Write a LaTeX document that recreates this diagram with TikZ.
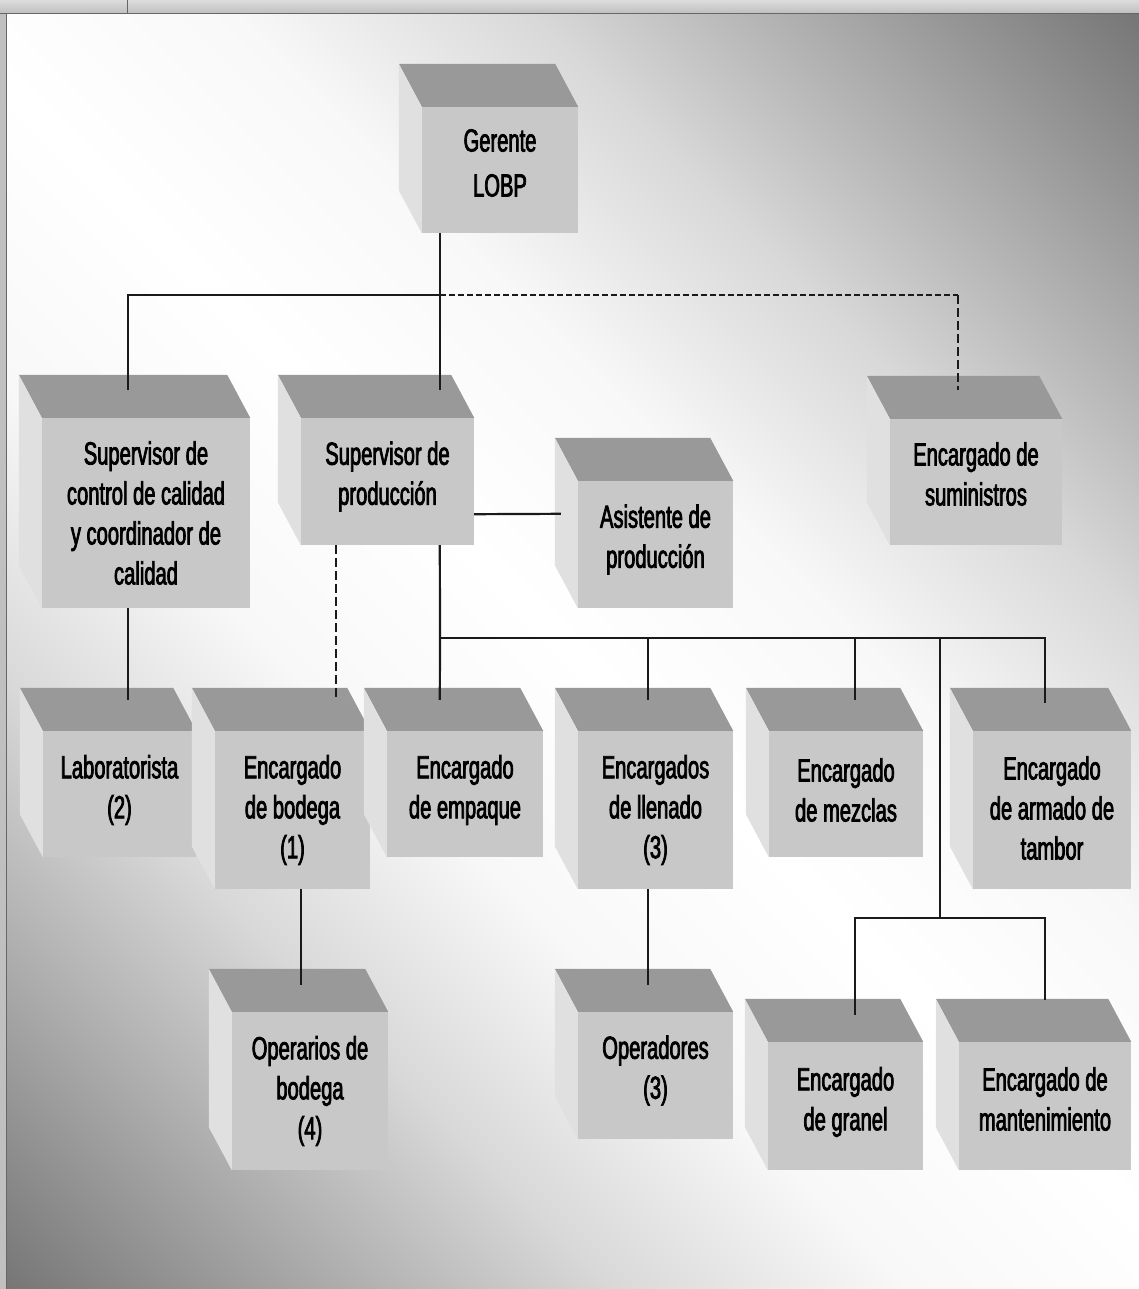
\documentclass[tikz,border=0pt]{standalone}
\usepackage{fontspec}
\setmainfont{Liberation Sans}[FakeStretch=0.63,FakeBold=2.3]
\usetikzlibrary{calc}

\definecolor{topface}{HTML}{999999}
\definecolor{frontface}{HTML}{C8C8C8}
\definecolor{sideface}{HTML}{E0E0E0}
\definecolor{bgA}{HTML}{F8F8F8}
\definecolor{bgB}{HTML}{D8D8D8}
\definecolor{bgC}{HTML}{A8A8A8}
\definecolor{bgD}{HTML}{777777}
\definecolor{linecol}{HTML}{1A1A1A}
\definecolor{framegray}{HTML}{C0C0C0}
\definecolor{framelight}{HTML}{DCDCDC}
\definecolor{framedark}{HTML}{666666}

% light band along the main diagonal, darker towards the two other corners
\pgfdeclareverticalshading{bgdiag}{100bp}{%
  color(0bp)=(bgD); color(14.64bp)=(bgD); color(23.48bp)=(bgC);
  color(32.32bp)=(bgB); color(41.16bp)=(bgA); color(50bp)=(white);
  color(58.84bp)=(bgA); color(67.68bp)=(bgB); color(76.52bp)=(bgC);
  color(85.36bp)=(bgD); color(100bp)=(bgD)}

\tikzset{
  cubefront/.style={rectangle, fill=frontface, inner sep=0pt},
  cubetext/.style={align=center, inner sep=0pt, text=black,
    font=\fontsize{32}{40}\selectfont},
  conn/.style={draw=linecol, line width=2.2pt},
  dashh/.style={conn, dash pattern=on 6pt off 3pt},
  dashv/.style={conn, dash pattern=on 9pt off 4pt},
}

% three-sided box: front face node, its top and left faces, and its text
% #1 text style, #2 name, #3-#6 front face corners (x1,y1,x2,y2), #7 text
\newcommand\orgcube[7][]{%
  \node[cubefront, minimum width={#5-#3}, minimum height={#6-#4}]
    (#2) at ({(#3+#5)/2},{(#4+#6)/2}) {};
  \fill[topface] (#2.north west) -- ++(-23,-43)
    -- ($(#2.north east)+(-23,-43)$) -- (#2.north east) -- cycle;
  \fill[sideface] (#2.north west) -- ++(-23,-43)
    -- ($(#2.south west)+(-23,-43)$) -- (#2.south west) -- cycle;
  \node[cubetext, #1] (#2-text) at (#2.center) {#7};
}

\begin{document}
\begin{tikzpicture}[x=1pt, y=-1pt]
\useasboundingbox (0,0) rectangle (1139,1289);

% window frame and background
\shade[shading=bgdiag, shading angle=-45] (7,14) rectangle (1139,1289);
\shade[top color=framelight, bottom color=framegray] (0,0) rectangle (1139,13);
\fill[framegray] (0,13) rectangle (6,1289);
\draw[framedark, line width=1.5pt] (0,13.5) -- (1139,13.5);
\draw[framedark, line width=1.2pt] (6.5,13.5) -- (6.5,1289);
\draw[framedark, line width=1pt] (127,0) -- (127,13);

% boxes
\orgcube[font=\fontsize{32}{45}\selectfont, yshift=7pt]{gerente}{422}{107}{578}{233}{Gerente\\LOBP}
\orgcube{calidad}{42}{418}{250}{608}{Supervisor de\\control de calidad\\y coordinador de\\calidad}
\orgcube[yshift=5pt]{prod}{301}{418}{474}{545}{Supervisor de\\producción}
\orgcube[yshift=5pt]{asist}{578}{481}{733}{608}{Asistente de\\producción}
\orgcube[yshift=8pt]{sumin}{890}{419}{1062}{545}{Encargado de\\suministros}
\orgcube[yshift=4pt]{lab}{43}{731}{196}{857}{Laboratorista\\(2)}
\orgcube{bodega}{215}{731}{370}{889}{Encargado\\de bodega\\(1)}
\orgcube[yshift=4pt]{empaque}{387}{731}{543}{857}{Encargado\\de empaque}
\orgcube{llenado}{578}{731}{733}{889}{Encargados\\de llenado\\(3)}
\orgcube[yshift=4pt]{mezclas}{769}{731}{923}{857}{Encargado\\de mezclas}
\orgcube[yshift=2pt]{armado}{973}{731}{1131}{889}{Encargado\\de armado de\\tambor}
\orgcube{operarios}{232}{1012}{388}{1170}{Operarios de\\bodega\\(4)}
\orgcube[yshift=5pt]{operadores}{578}{1012}{733}{1139}{Operadores\\(3)}
\orgcube[yshift=4pt]{granel}{768}{1042}{923}{1170}{Encargado\\de granel}
\orgcube[yshift=7pt]{mant}{959}{1042}{1131}{1170}{Encargado de\\mantenimiento}

% entry points on the top faces
\coordinate (prod-in)   at ($(prod.north west)+(139,-28)$);
\coordinate (cal-in)    at ($(calidad.north west)+(86,-28)$);
\coordinate (sum-in)    at ($(sumin.north west)+(68,-29)$);
\coordinate (lab-in)    at ($(lab.north west)+(85,-31)$);
\coordinate (bod-in)    at ($(bodega.north west)+(121,-31)$);
\coordinate (emp-in)    at ($(empaque.north west)+(53,-31)$);
\coordinate (lle-in)    at ($(llenado.north west)+(70,-31)$);
\coordinate (mez-in)    at ($(mezclas.north west)+(86,-31)$);
\coordinate (arm-in)    at ($(armado.north west)+(72,-28)$);
\coordinate (opb-in)    at ($(operarios.north west)+(69,-27)$);
\coordinate (opd-in)    at ($(operadores.north west)+(70,-27)$);
\coordinate (gra-in)    at ($(granel.north west)+(87,-27)$);
\coordinate (man-in)    at ($(mant.north west)+(86,-42)$);
\coordinate (asi-in)    at ($(asist.north west)+(-17,33)$);

% buses
\coordinate (topbus) at (440,295);
\coordinate (midbus) at (440,638);
\coordinate (lowbus) at (940,918);

% connectors
\draw[conn] ($(gerente.south west)+(18,0)$) -- (prod-in);
\draw[conn] (cal-in) |- (topbus);
\draw[dashh] (topbus) -- (topbus -| sum-in);
\draw[dashv] (topbus -| sum-in) -- (sum-in);
\draw[conn] ($(calidad.south west)+(86,0)$) -- (lab-in);
\draw[conn] ($(prod.south east)+(0,-31)$) -- (asi-in);
\draw[dashv] ($(prod.south west)+(35,0)$) -- (bod-in);
\draw[conn] ($(prod.south west)+(139,0)$) -- (midbus) -- (emp-in);
\draw[conn] (midbus) -| (arm-in);
\draw[conn] (midbus -| lle-in) -- (lle-in);
\draw[conn] (midbus -| mez-in) -- (mez-in);
\draw[conn] (midbus -| lowbus) -- (lowbus);
\draw[conn] (gra-in) |- (lowbus) -| (man-in);
\draw[conn] ($(bodega.south west)+(86,0)$) -- (opb-in);
\draw[conn] ($(llenado.south west)+(70,0)$) -- (opd-in);
\end{tikzpicture}
\end{document}
